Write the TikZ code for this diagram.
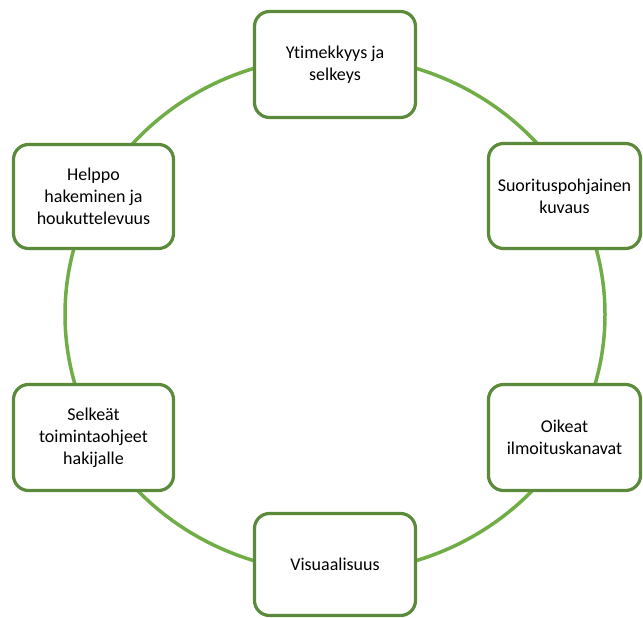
\documentclass[tikz,border=0pt]{standalone}
\usepackage{fontspec}
\setmainfont{Carlito}[Ligatures={NoCommon}]
\usepackage{tikz}
\definecolor{g1}{HTML}{70AD47}
\definecolor{g2}{HTML}{5A8A3A}

\begin{document}
\begin{tikzpicture}[x=1pt,y=-1pt,
  box/.style={draw=g2, line width=3.2pt, fill=white, rounded corners=15pt,
    align=center, inner sep=0pt, font=\fontsize{18}{22}\selectfont}]
\useasboundingbox (0,0) rectangle (643,618);
\coordinate (c) at (335,314.5);
\draw[g1, line width=3.5pt] (c) ellipse [x radius=270, y radius=258];
\node[box, minimum width=161pt, minimum height=106pt] (ytim) at (335,64.5) {Ytimekkyys ja\\selkeys};
\node[box, minimum width=152pt, minimum height=105pt] (suor) at (564.5,196) {Suorituspohjainen\\kuvaus};
\node[box, minimum width=152pt, minimum height=106pt] (oike) at (564.5,437.5) {Oikeat\\ilmoituskanavat};
\node[box, minimum width=161pt, minimum height=102pt] (visu) at (335,564.5) {Visuaalisuus};
\node[box, minimum width=160pt, minimum height=106pt] (selk) at (93.5,437.5) {Selkeät\\toimintaohjeet\\hakijalle};
\node[box, minimum width=160pt, minimum height=104pt] (help) at (93.5,196.5) {Helppo\\hakeminen ja\\houkuttelevuus};
\end{tikzpicture}
\end{document}
